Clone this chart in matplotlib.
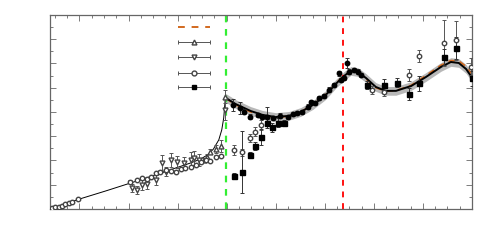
import numpy as np
import matplotlib.pyplot as plt
from matplotlib.ticker import MultipleLocator

# %% data (arbitrary units)
# thin model line, space-like side up to threshold
sl_line_x = [-0.59, -0.29, 0.0, 0.53, 1.04, 1.55, 1.96, 2.27, 2.47, 2.61, 2.73, 2.84, 2.90, 2.94, 2.97]
sl_line_y = [0.0, 0.21, 0.41, 0.74, 1.07, 1.40, 1.69, 1.90, 2.06, 2.23, 2.47, 2.85, 3.26, 3.75, 4.49]

# fit curve + band, time-like side
tl_line_x = [2.98, 3.18, 3.49, 3.73, 4.0, 4.27, 4.51, 4.76, 5.02, 5.22, 5.39, 5.53, 5.67, 5.84,
             6.04, 6.24, 6.45, 6.76, 7.06, 7.37, 7.57, 7.73, 7.88, 8.02]
tl_line_y = [4.58, 4.33, 4.04, 3.88, 3.79, 3.84, 4.0, 4.29, 4.70, 5.15, 5.48, 5.69, 5.65, 5.40,
             5.03, 4.87, 4.87, 5.07, 5.44, 5.86, 6.06, 6.02, 5.77, 5.36]
band_w = 0.18
# second model (dashed orange)
alt_line_y = [4.56, 4.30, 4.00, 3.85, 3.77, 3.83, 4.0, 4.30, 4.72, 5.17, 5.49, 5.68, 5.62, 5.36,
              5.00, 4.86, 4.88, 5.10, 5.50, 5.93, 6.12, 6.10, 5.88, 5.50]

x_threshold = 2.98
x_peak = 5.37

# triangles up
tu_x = [2.53, 2.60, 2.67, 2.78, 2.88, 2.97]
tu_y = [2.02, 2.16, 2.37, 2.47, 2.60, 4.63]
tu_e = [0.08, 0.10, 0.12, 0.15, 0.25, 0.27]

# triangles down
td_x = [1.08, 1.18, 1.28, 1.38, 1.55, 1.69, 1.76, 1.86, 1.99, 2.13, 2.27, 2.33, 2.43, 2.97]
td_y = [0.85, 0.78, 0.99, 1.03, 1.20, 1.88, 1.54, 2.02, 1.95, 1.88, 2.02, 2.09, 2.02, 4.10]
td_e = [0.16, 0.16, 0.20, 0.20, 0.20, 0.33, 0.20, 0.29, 0.25, 0.25, 0.33, 0.29, 0.25, 0.45]

# open circles
oc_x = [-0.56, -0.49, -0.42, -0.35, -0.29, -0.22, -0.15, -0.03,
        1.04, 1.18, 1.27, 1.37, 1.45, 1.55, 1.65, 1.76, 1.86, 1.96, 2.06, 2.16, 2.27, 2.37,
        2.47, 2.57, 2.67, 2.78, 2.88,
        3.15, 3.32, 3.48, 3.57, 3.71, 5.97, 6.21, 6.72, 6.92, 7.43, 7.67, 7.98]
oc_y = [0.03, 0.07, 0.09, 0.14, 0.19, 0.25, 0.30, 0.41,
        1.13, 1.20, 1.27, 1.24, 1.33, 1.47, 1.54, 1.61, 1.57, 1.54, 1.65, 1.68, 1.74, 1.81,
        1.95, 2.02, 1.99, 2.16, 2.19,
        2.43, 2.34, 2.92, 3.19, 3.46, 4.91, 4.84, 5.53, 6.31, 6.85, 6.95, 5.87]
oc_e = [0, 0, 0, 0, 0, 0, 0, 0,
        0.05, 0.05, 0.05, 0.05, 0.05, 0.05, 0.05, 0.05, 0.05, 0.05, 0.05, 0.05, 0.05, 0.05,
        0.05, 0.05, 0.05, 0.05, 0.05,
        0.20, 0.15, 0.16, 0.18, 0.20, 0.16, 0.20, 0.25, 0.25, 0.95, 0.82, 0.35]

# filled squares (asymmetric errors: lower, upper)
sq_x = [3.15, 3.32, 3.48, 3.57, 3.71, 3.82, 3.92, 4.05, 4.17,
        5.87, 6.21, 6.48, 6.72, 6.92, 7.43, 7.67, 8.01]
sq_y = [1.37, 1.54, 2.23, 2.60, 2.96, 3.53, 3.37, 3.56, 3.53,
        5.11, 5.11, 5.21, 4.74, 5.18, 6.28, 6.63, 5.39]
sq_lo = [0.10, 0.89, 0.14, 0.18, 0.33, 0.20, 0.18, 0.18, 0.12,
         0.16, 0.25, 0.20, 0.25, 0.30, 0.33, 0.45, 0.30]
sq_hi = [0.10, 1.68, 0.14, 0.18, 0.33, 0.20, 0.18, 0.18, 0.12,
         0.16, 0.25, 0.20, 0.25, 0.30, 0.33, 0.45, 0.30]

# dense filled points along the fit
fp_x = [3.12, 3.27, 3.35, 3.48, 3.63, 3.73, 3.83, 3.94, 4.09, 4.25, 4.35, 4.44, 4.53, 4.65,
        4.71, 4.80, 4.88, 4.98, 5.09, 5.19, 5.29, 5.33, 5.39, 5.46, 5.50, 5.59, 5.67, 5.73]
fp_y = [4.29, 4.15, 4.01, 3.81, 3.88, 3.79, 3.81, 3.75, 3.84, 3.81, 3.92, 3.95, 4.0, 4.22,
        4.42, 4.37, 4.56, 4.66, 4.91, 5.11, 5.60, 5.32, 5.39, 6.01, 5.66, 5.73, 5.66, 5.53]
fp_e = [0.25, 0.25, 0.10, 0.10, 0.08, 0.10, 0.40, 0.08, 0.10, 0.08, 0.08, 0.08, 0.08, 0.10,
        0.08, 0.08, 0.08, 0.08, 0.10, 0.08, 0.10, 0.08, 0.08, 0.20, 0.10, 0.10, 0.10, 0.08]

# %%
fig = plt.figure(figsize=(5, 2.45), dpi=100)
ax = fig.add_axes([0.1, 0.147, 0.844, 0.792])

tl_x = np.array(tl_line_x)
tl_y = np.array(tl_line_y)
ax.fill_between(tl_x, tl_y - band_w, tl_y + band_w, color='#b8b8b8', lw=0, zorder=1)
ax.plot(tl_x, alt_line_y, color='#d2691e', lw=1.2, ls=(0, (4, 3)), zorder=2)
ax.plot(tl_x, tl_y, color='black', lw=1.4, zorder=3)
ax.plot(sl_line_x, sl_line_y, color='black', lw=0.7, zorder=3)

ax.axvline(x_threshold, color='#33ee33', lw=1.6, ls=(0, (3, 3)), zorder=2)
ax.axvline(x_peak, color='#ff1010', lw=1.4, ls=(0, (3, 3)), zorder=2)

eb = dict(ls='none', elinewidth=0.7, capsize=1.6, capthick=0.7, zorder=4)
ax.errorbar(tu_x, tu_y, yerr=tu_e, marker='^', ms=3.5, mfc='white', mec='#444444',
            ecolor='#555555', **eb)
ax.errorbar(td_x, td_y, yerr=td_e, marker='v', ms=3.5, mfc='white', mec='#444444',
            ecolor='#555555', **eb)
ax.errorbar(oc_x, oc_y, yerr=oc_e, marker='o', ms=3.2, mfc='white', mec='#444444',
            ecolor='#555555', **eb)
ax.errorbar(sq_x, sq_y, yerr=[sq_lo, sq_hi], marker='s', ms=3.6, color='black',
            ecolor='#333333', **eb)
ax.errorbar(fp_x, fp_y, yerr=fp_e, marker='o', ms=3.2, color='black', ecolor='#333333', **eb)

# legend, drawn by hand (no labels in the reference)
lx = [0.303, 0.379]
ax.plot(lx, [0.938, 0.938], transform=ax.transAxes, color='#d2691e', lw=1.4,
        ls=(0, (3.5, 3.5)), clip_on=False)
leg = [('^', 'white', 0.861), ('v', 'white', 0.784), ('o', 'white', 0.703), ('s', 'black', 0.627)]
for m, fc, ly in leg:
    ax.errorbar([0.341], [ly], xerr=[0.038], transform=ax.transAxes, marker=m, ms=3.5,
                mfc=fc, mec='#444444' if fc == 'white' else 'black', color='#555555',
                elinewidth=0.7, capsize=1.6, capthick=0.7)

ax.set_xlim(-0.6, 8.0)
ax.set_ylim(0, 8)
ax.xaxis.set_major_locator(MultipleLocator(1))
ax.xaxis.set_minor_locator(MultipleLocator(0.25))
ax.yaxis.set_major_locator(MultipleLocator(1))
ax.yaxis.set_minor_locator(MultipleLocator(0.5))
ax.tick_params(which='both', direction='in', top=True, right=True,
               labelbottom=False, labelleft=False, color='#666666', width=0.6)
ax.tick_params(which='major', length=4)
ax.tick_params(which='minor', length=2)
for s in ax.spines.values():
    s.set_color('#666666')
    s.set_linewidth(0.9)

fig.savefig('out.png', dpi=100)
